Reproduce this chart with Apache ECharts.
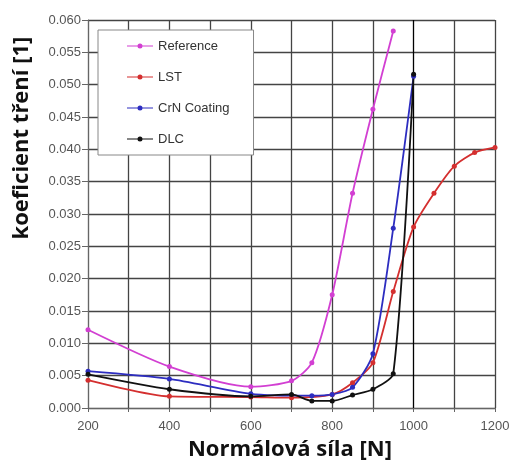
<!DOCTYPE html>
<html>
<head>
<meta charset="utf-8">
<script src="https://cdn.jsdelivr.net/npm/echarts@6/dist/echarts.min.js"></script>
<style>
html,body{margin:0;padding:0;background:#fff;}
#chart{width:516px;height:462px;}
</style>
</head>
<body>
<div id="chart"></div>
<script>
// ---- data ----
var seriesNames = ['Reference', 'LST', 'CrN Coating', 'DLC'];
var refX = [200, 400, 600, 700, 750, 800, 850, 900, 950];
var refY = [0.0121, 0.0064, 0.0033, 0.0042, 0.0070, 0.0175, 0.0332, 0.0462, 0.0583];
var lstX = [200, 400, 600, 700, 800, 850, 900, 950, 1000, 1050, 1100, 1150, 1200];
var lstY = [0.0043, 0.0018, 0.0017, 0.0016, 0.0021, 0.0039, 0.0070, 0.0180, 0.0280, 0.0332, 0.0374, 0.0395, 0.0403];
var crnX = [200, 400, 600, 750, 800, 850, 900, 950, 1000];
var crnY = [0.0057, 0.0045, 0.0022, 0.0019, 0.0021, 0.0032, 0.0084, 0.0278, 0.0513];
var dlcX = [200, 400, 600, 700, 750, 800, 850, 900, 950, 1000];
var dlcY = [0.0052, 0.0029, 0.0018, 0.0021, 0.0011, 0.0011, 0.0020, 0.0029, 0.0053, 0.0516];
var xTickLabels = ['200', '400', '600', '800', '1000', '1200'];
var yTickLabels = ['0.000','0.005','0.010','0.015','0.020','0.025','0.030','0.035','0.040','0.045','0.050','0.055','0.060'];
var xTitle = 'Normálová síla [N]';
var yTitle = 'koeficient tření [1]';

function pairs(xs, ys) { return xs.map(function (x, i) { return [x, ys[i]]; }); }

var colors = ['#d23fd2', '#d42f2f', '#2d2dc0', '#111111'];
var xSplitColors = ['#444','#444','#444','#444','#444','#444','#444','#444','#000','#444','#444'];
var legendIcon = 'path://M0,2 L26,2 L26,3.2 L0,3.2 Z M15.5,2.6 A2.5,2.5 0 1,1 10.5,2.6 A2.5,2.5 0 1,1 15.5,2.6 Z';

var chart = echarts.init(document.getElementById('chart'));
function mkSeries(name, xs, ys, color) {
  return {
    name: name, type: 'line', data: pairs(xs, ys),
    smooth: 0.25, symbol: 'circle', symbolSize: 5,
    itemStyle: { color: color }, lineStyle: { color: color, width: 1.8 }
  };
}
chart.setOption({
  animation: false,
  backgroundColor: '#fff',
  grid: { left: 88, right: 21, top: 20, bottom: 54, containLabel: false },
  xAxis: {
    type: 'value', min: 200, max: 1200, interval: 100,
    axisLine: { show: true, lineStyle: { color: '#666', width: 1 } },
    axisTick: { show: true, length: 4, lineStyle: { color: '#666' } },
    axisLabel: {
      color: '#555', fontFamily: 'Liberation Sans', fontSize: 13, margin: 12,
      formatter: function (v) { var s = String(Math.round(v)); return xTickLabels.indexOf(s) >= 0 ? s : ''; }
    },
    splitLine: { show: true, lineStyle: { color: xSplitColors, width: 1.3 } }
  },
  yAxis: {
    type: 'value', min: 0, max: 0.06, interval: 0.005,
    axisLine: { show: true, lineStyle: { color: '#666', width: 1 } },
    axisTick: { show: true, length: 6, lineStyle: { color: '#666' } },
    axisLabel: {
      color: '#555', fontFamily: 'Liberation Sans', fontSize: 13, margin: 7,
      formatter: function (v) { return yTickLabels[Math.round(v / 0.005)]; }
    },
    splitLine: { show: true, lineStyle: { color: '#444', width: 1.3 } }
  },
  legend: {
    orient: 'vertical', left: 98, top: 30,
    data: seriesNames.map(function (n) { return { name: n, icon: legendIcon }; }),
    itemWidth: 26, itemHeight: 5, itemGap: 17,
    padding: [9, 24, 9, 29],
    backgroundColor: '#fff', borderColor: '#888', borderWidth: 1,
    textStyle: { color: '#333', fontFamily: 'Liberation Sans', fontSize: 13, lineHeight: 14 }
  },
  graphic: [
    {
      type: 'text', x: 22, y: 138, rotation: Math.PI / 2,
      style: { text: yTitle, font: 'bold 22px "Open Sans"', fill: '#111', align: 'center', verticalAlign: 'middle' }
    },
    {
      type: 'text', x: 290, y: 450,
      style: { text: xTitle, font: 'bold 22px "Open Sans"', fill: '#111', align: 'center', verticalAlign: 'middle' }
    }
  ],
  series: [
    mkSeries(seriesNames[0], refX, refY, colors[0]),
    mkSeries(seriesNames[1], lstX, lstY, colors[1]),
    mkSeries(seriesNames[2], crnX, crnY, colors[2]),
    mkSeries(seriesNames[3], dlcX, dlcY, colors[3])
  ]
});
</script>
</body>
</html>
